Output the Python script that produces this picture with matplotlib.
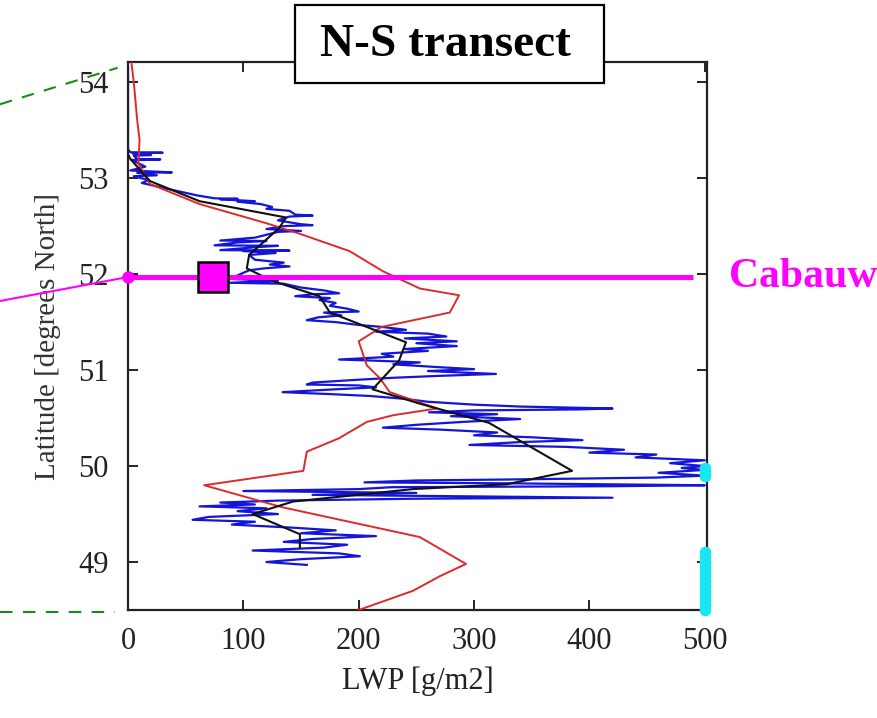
import matplotlib
matplotlib.use("Agg")
import matplotlib.pyplot as plt
from matplotlib.patches import Rectangle

plt.rcParams['font.family'] = ['Liberation Serif', 'DejaVu Serif']

# model LWP along the transect (red)
red_lat = [54.20, 54.00, 53.60, 53.40, 53.15, 52.94, 52.73, 52.53, 52.42, 52.24,
           52.03, 51.85, 51.78, 51.60, 51.45, 51.30, 51.05, 50.92, 50.77, 50.60,
           50.53, 50.46, 50.29, 50.15, 49.95, 49.80, 49.57, 49.26, 48.98, 48.85,
           48.70, 48.50]
red_lwp = [3, 5, 8, 10, 9, 19, 62, 120, 149, 192,
           221, 253, 287, 279, 220, 200, 207, 218, 227, 268,
           230, 207, 183, 155, 152, 66, 134, 253, 293, 270,
           247, 200]

# observed LWP, smoothed (black)
blk_lat = [53.25, 53.20, 52.97, 52.76, 52.59, 52.48, 52.20, 52.06, 51.93, 51.77,
           51.60, 51.29, 51.10, 50.80, 50.65, 50.45, 49.95, 49.81, 49.76, 49.63,
           49.50, 49.29, 49.15]
blk_lwp = [0, 2, 19, 62, 137, 131, 105, 103, 125, 166,
           175, 241, 235, 212, 253, 313, 385, 328, 247, 143,
           108, 149, 149]

# observed LWP, raw (blue)
blue_lat = [54.15, 53.60, 53.30, 53.27, 53.265, 53.26, 53.24, 53.235, 53.20, 53.195,
            53.19, 53.12, 53.08, 53.06, 53.055, 53.03, 53.02, 52.98, 52.95, 52.90,
            52.86, 52.82, 52.79, 52.785, 52.78, 52.76, 52.755, 52.73, 52.70, 52.68,
            52.66, 52.62, 52.61, 52.60, 52.56, 52.52, 52.51, 52.50, 52.47, 52.45,
            52.44, 52.38, 52.35, 52.345, 52.33, 52.30, 52.295, 52.28, 52.25, 52.245,
            52.24, 52.22, 52.20, 52.15, 52.12, 52.10, 52.08, 52.06, 52.04, 51.95,
            51.93, 51.92, 51.91, 51.90, 51.86, 51.83, 51.80, 51.79, 51.77, 51.75,
            51.73, 51.70, 51.67, 51.64, 51.61, 51.60, 51.57, 51.55, 51.52, 51.50,
            51.47, 51.45, 51.42, 51.40, 51.38, 51.35, 51.33, 51.30, 51.28, 51.25,
            51.22, 51.20, 51.17, 51.14, 51.11, 51.10, 51.08, 51.06, 51.03, 51.01,
            50.99, 50.96, 50.94, 50.92, 50.90, 50.87, 50.85, 50.84, 50.82, 50.80,
            50.77, 50.75, 50.73, 50.70, 50.67, 50.64, 50.62, 50.60, 50.59, 50.58,
            50.56, 50.54, 50.52, 50.49, 50.46, 50.43, 50.40, 50.38, 50.35, 50.32,
            50.30, 50.27, 50.25, 50.22, 50.20, 50.17, 50.14, 50.12, 50.09, 50.06,
            50.03, 50.00, 49.98, 49.96, 49.93, 49.90, 49.88, 49.86, 49.85, 49.83,
            49.82, 49.80, 49.79, 49.78, 49.76, 49.74, 49.72, 49.70, 49.67, 49.66,
            49.64, 49.62, 49.60, 49.58, 49.56, 49.53, 49.50, 49.47, 49.44, 49.42,
            49.39, 49.36, 49.33, 49.30, 49.27, 49.24, 49.21, 49.18, 49.15, 49.12,
            49.09, 49.06, 49.03, 49.00, 48.97]
blue_lwp = [0, 0, 0, 2, 30, 4, 20, 5, 8, 28,
            3, 15, 2, 38, 8, 25, 5, 18, 12, 30,
            45, 60, 75, 95, 80, 110, 95, 115, 125, 120,
            140, 145, 160, 140, 130, 150, 160, 135, 120, 150,
            130, 110, 80, 120, 95, 75, 130, 110, 80, 140,
            100, 128, 105, 110, 135, 123, 140, 118, 105, 88,
            130, 110, 88, 135, 150, 170, 183, 160, 145, 175,
            166, 180, 175, 190, 200, 170, 185, 165, 155, 180,
            200, 220, 241, 215, 260, 276, 240, 285, 250, 285,
            240, 260, 220, 230, 183, 210, 253, 230, 270, 300,
            260, 319, 270, 230, 200, 160, 155, 200, 215, 180,
            134, 175, 210, 240, 260, 300, 340, 420, 390, 300,
            261, 320, 280, 340, 290, 250, 221, 270, 320, 300,
            350, 394, 340, 296, 380, 430, 400, 458, 440, 500,
            470, 500, 480, 500, 460, 500, 458, 330, 250, 205,
            330, 500, 420, 229, 200, 100, 250, 160, 420, 250,
            130, 80, 110, 62, 120, 95, 130, 70, 56, 110,
            90, 140, 180, 150, 215, 160, 135, 190, 170, 108,
            183, 201, 150, 120, 155]

# values off the scale, drawn at the axis limit (cyan)
cyan_lat = [49.98, 49.95, 49.92, 49.90,
            49.10, 49.05, 49.00, 48.95, 48.90, 48.85, 48.80, 48.75,
            48.70, 48.65, 48.60, 48.55, 48.50]
cyan_lwp = [500, 500, 500, 500,
            500, 500, 500, 500, 500, 500, 500, 500,
            500, 500, 500, 500, 500]

site_lat = 51.97
site_lwp = 74
site_name = 'Cabauw'

fig = plt.figure(figsize=(8.78, 7.18), dpi=100)
ax = fig.add_axes([0.1458, 0.1504, 0.6595, 0.7632])

ax.plot(blue_lwp, blue_lat, color='#1515d8', lw=1.6, zorder=2)
ax.plot(red_lwp, red_lat, color='#dd2a2a', lw=1.4, zorder=3)
ax.plot(blk_lwp, blk_lat, color='#111111', lw=1.5, zorder=4)
ax.scatter(cyan_lwp, cyan_lat, s=70, color='#19e6f0', zorder=5, clip_on=False,
           linewidths=0)

# Cabauw latitude and site marker
ax.plot([0, 490], [site_lat, site_lat], color='#ff00ff', lw=3.6, zorder=6,
        solid_capstyle='butt')
ax.plot([site_lwp], [site_lat], marker='s', ms=21, mfc='#ff00ff', mec='black',
        mew=1.8, zorder=7)
ax.plot([0], [site_lat], marker='o', ms=8, color='#ff00ff', zorder=7,
        clip_on=False)
ax.plot([-111, 0], [51.72, site_lat], color='#ff00ff', lw=1.5, clip_on=False)
ax.text(521, site_lat, site_name, color='#ff00ff', fontsize=30,
        fontweight='bold', va='center', ha='left', clip_on=False)

# zoom lines towards the map panel
ax.plot([-111, -9], [53.77, 54.15], color='#1a8a1a', lw=1.5,
        dashes=(6, 5), clip_on=False)
ax.plot([-111, -11], [48.48, 48.48], color='#1a8a1a', lw=1.5,
        dashes=(6, 5), clip_on=False)

ax.set_xlim(0, 502)
ax.set_ylim(48.5, 54.21)
ax.set_xticks([0, 100, 200, 300, 400, 500])
ax.set_yticks([49, 50, 51, 52, 53, 54])
ax.tick_params(direction='in', top=True, right=True, length=7, width=1.4,
               labelsize=22, colors='#222222')
ax.tick_params(axis='x', pad=12)
ax.tick_params(axis='y', pad=14)
for sp in ax.spines.values():
    sp.set_linewidth(1.6)
    sp.set_color('#222222')

ax.set_xlabel('LWP [g/m2]', fontsize=22, color='#222222', labelpad=8)
ax.set_ylabel('Latitude [degrees North]', fontsize=21, color='#333333',
              labelpad=12)

# title box sitting over the top of the frame
fig.patches.append(Rectangle((0.336, 0.8844), 0.352, 0.1086,
                             transform=fig.transFigure, facecolor='white',
                             edgecolor='black', lw=1.6, zorder=10))
fig.text(0.507, 0.937, 'N-S transect', fontsize=34, fontweight='bold',
         ha='center', va='center', zorder=11)

fig.savefig('out.png', dpi=100)
